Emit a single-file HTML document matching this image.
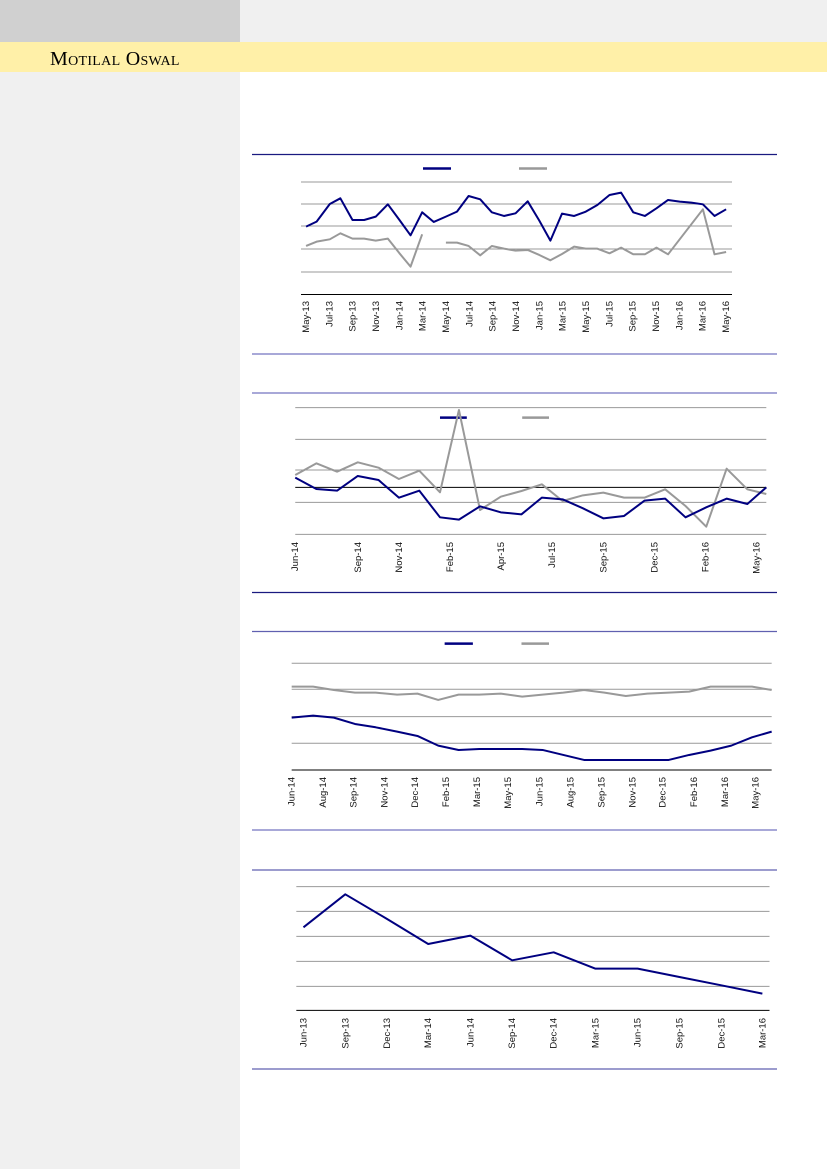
<!DOCTYPE html>
<html><head><meta charset="utf-8"><style>
html,body{margin:0;padding:0}
body{width:827px;height:1169px;position:relative;background:#fff;overflow:hidden}
svg{position:absolute;left:0;top:0}
text{font-family:"Liberation Sans",sans-serif;font-size:9.5px;fill:#111}
</style></head><body>
<svg width="827" height="1169" viewBox="0 0 827 1169">
<rect x="0" y="0" width="240" height="1169" fill="#f0f0f0"/>
<rect x="0" y="0" width="240" height="42" fill="#d0d0d0"/>
<rect x="240" y="0" width="587" height="42" fill="#f0f0f0"/>
<rect x="0" y="42" width="827" height="30" fill="#fff0a8"/>
<text x="50" y="65" style="font-family:'Liberation Serif',serif;font-size:20px;font-variant:small-caps;fill:#000;letter-spacing:0.3px">Motilal Oswal</text>

<!-- Chart 1 -->
<line x1="252" y1="154.5" x2="777" y2="154.5" stroke="#1a1a80" stroke-width="1.3"/>
<line x1="252" y1="354" x2="777" y2="354" stroke="#a8a8d8" stroke-width="2"/>
<g stroke="#999" stroke-width="1">
<line x1="301" y1="182" x2="732" y2="182"/><line x1="301" y1="204" x2="732" y2="204"/>
<line x1="301" y1="226" x2="732" y2="226"/><line x1="301" y1="249" x2="732" y2="249"/>
<line x1="301" y1="272" x2="732" y2="272"/></g>
<line x1="301" y1="294.5" x2="732" y2="294.5" stroke="#000" stroke-width="1"/>
<line x1="423" y1="168.5" x2="451" y2="168.5" stroke="#000080" stroke-width="2.5"/>
<line x1="519" y1="168.5" x2="547" y2="168.5" stroke="#999" stroke-width="2.5"/>
<g transform="scale(0.5277,0.3333)" fill="none" stroke-linejoin="round">
<polyline vector-effect="non-scaling-stroke" stroke="#000080" stroke-width="2" points="580,680 600,665 625,612 645,595 668,660 690,660 712,650 735,613 757,660 778,706 800,637 822,666 845,650 866,635 888,588 910,598 932,637 955,648 977,640 1000,604 1022,662 1043,722 1065,641 1088,648 1110,635 1132,615 1155,585 1177,578 1200,637 1222,648 1244,625 1266,600 1288,605 1310,608 1332,613 1354,648 1376,628"/>
<polyline vector-effect="non-scaling-stroke" stroke="#999" stroke-width="2" points="580,738 600,725 625,718 645,700 668,716 690,716 712,722 735,716 757,760 778,800 800,703"/>
<polyline vector-effect="non-scaling-stroke" stroke="#999" stroke-width="2" points="845,728 866,728 888,738 910,766 932,738 955,746 977,752 1000,750 1022,765 1043,781 1065,762 1088,740 1110,746 1132,746 1155,760 1177,743 1200,763 1222,763 1244,743 1266,763 1288,718 1310,673 1332,628 1354,763 1376,756"/>
</g>
<g text-anchor="end">
<text transform="translate(309,301) rotate(-90)">May-13</text>
<text transform="translate(332.3,301) rotate(-90)">Jul-13</text>
<text transform="translate(355.7,301) rotate(-90)">Sep-13</text>
<text transform="translate(379,301) rotate(-90)">Nov-13</text>
<text transform="translate(402.3,301) rotate(-90)">Jan-14</text>
<text transform="translate(425.7,301) rotate(-90)">Mar-14</text>
<text transform="translate(449,301) rotate(-90)">May-14</text>
<text transform="translate(472.3,301) rotate(-90)">Jul-14</text>
<text transform="translate(495.7,301) rotate(-90)">Sep-14</text>
<text transform="translate(519,301) rotate(-90)">Nov-14</text>
<text transform="translate(542.3,301) rotate(-90)">Jan-15</text>
<text transform="translate(565.7,301) rotate(-90)">Mar-15</text>
<text transform="translate(589,301) rotate(-90)">May-15</text>
<text transform="translate(612.3,301) rotate(-90)">Jul-15</text>
<text transform="translate(635.7,301) rotate(-90)">Sep-15</text>
<text transform="translate(659,301) rotate(-90)">Nov-15</text>
<text transform="translate(682.3,301) rotate(-90)">Jan-16</text>
<text transform="translate(705.7,301) rotate(-90)">Mar-16</text>
<text transform="translate(729,301) rotate(-90)">May-16</text>
</g>

<!-- Chart 2 -->
<line x1="252" y1="393" x2="777" y2="393" stroke="#a8a8d8" stroke-width="2"/>
<line x1="252" y1="592.5" x2="777" y2="592.5" stroke="#1a1a80" stroke-width="1.3"/>
<g transform="translate(239.85,380) scale(0.3574,0.3333)" fill="none" stroke-linejoin="round">
<g stroke="#999" stroke-width="1">
<line vector-effect="non-scaling-stroke" x1="155" y1="83" x2="1473" y2="83"/>
<line vector-effect="non-scaling-stroke" x1="155" y1="178" x2="1473" y2="178"/>
<line vector-effect="non-scaling-stroke" x1="155" y1="270" x2="1473" y2="270"/>
<line vector-effect="non-scaling-stroke" x1="155" y1="367" x2="1473" y2="367"/>
<line vector-effect="non-scaling-stroke" x1="155" y1="463" x2="1473" y2="463"/></g>
<line vector-effect="non-scaling-stroke" x1="155" y1="322" x2="1473" y2="322" stroke="#000" stroke-width="1"/>
<line vector-effect="non-scaling-stroke" x1="560" y1="113" x2="635" y2="113" stroke="#000080" stroke-width="2.5"/>
<line vector-effect="non-scaling-stroke" x1="790" y1="113" x2="865" y2="113" stroke="#999" stroke-width="2.5"/>
<polyline vector-effect="non-scaling-stroke" stroke="#999" stroke-width="2" points="155,285 214,250 272,275 330,247 388,263 445,297 502,272 560,337 613,90 672,390 730,350 788,333 845,313 903,363 960,346 1017,338 1075,353 1132,353 1190,328 1247,378 1305,440 1362,266 1420,328 1473,342"/>
<polyline vector-effect="non-scaling-stroke" stroke="#000080" stroke-width="2" points="155,293 214,327 272,332 330,288 388,300 445,353 502,332 560,412 613,419 672,379 730,397 788,403 845,353 903,358 960,385 1017,415 1075,408 1132,362 1190,356 1247,412 1305,382 1362,356 1420,372 1473,322"/>
</g>
<g text-anchor="end">
<text transform="translate(298.2,542) rotate(-90)">Jun-14</text>
<text transform="translate(360.8,542) rotate(-90)">Sep-14</text>
<text transform="translate(401.9,542) rotate(-90)">Nov-14</text>
<text transform="translate(453,542) rotate(-90)">Feb-15</text>
<text transform="translate(503.8,542) rotate(-90)">Apr-15</text>
<text transform="translate(554.9,542) rotate(-90)">Jul-15</text>
<text transform="translate(606.3,542) rotate(-90)">Sep-15</text>
<text transform="translate(657.4,542) rotate(-90)">Dec-15</text>
<text transform="translate(708.5,542) rotate(-90)">Feb-16</text>
<text transform="translate(759.3,542) rotate(-90)">May-16</text>
</g>

<!-- Chart 3 -->
<line x1="252" y1="631.5" x2="777" y2="631.5" stroke="#6060b0" stroke-width="1.3"/>
<line x1="252" y1="830" x2="777" y2="830" stroke="#a8a8d8" stroke-width="2"/>
<g transform="translate(239.85,380) scale(0.3574,0.3333)" fill="none" stroke-linejoin="round">
<g stroke="#999" stroke-width="1">
<line vector-effect="non-scaling-stroke" x1="145" y1="850" x2="1488" y2="850"/>
<line vector-effect="non-scaling-stroke" x1="145" y1="928" x2="1488" y2="928"/>
<line vector-effect="non-scaling-stroke" x1="145" y1="1010" x2="1488" y2="1010"/>
<line vector-effect="non-scaling-stroke" x1="145" y1="1090" x2="1488" y2="1090"/></g>
<line vector-effect="non-scaling-stroke" x1="145" y1="1170" x2="1488" y2="1170" stroke="#000" stroke-width="1"/>
<line vector-effect="non-scaling-stroke" x1="573" y1="791" x2="652" y2="791" stroke="#000080" stroke-width="2.5"/>
<line vector-effect="non-scaling-stroke" x1="788" y1="791" x2="865" y2="791" stroke="#999" stroke-width="2.5"/>
<polyline vector-effect="non-scaling-stroke" stroke="#999" stroke-width="2" points="145,920 205,920 263,930 322,938 380,938 440,944 497,941 555,960 612,944 670,944 730,941 790,950 847,944 905,938 963,930 1020,938 1080,948 1140,941 1200,938 1257,935 1317,920 1375,920 1433,920 1488,930"/>
<polyline vector-effect="non-scaling-stroke" stroke="#000080" stroke-width="2" points="145,1013 205,1007 263,1013 322,1032 380,1042 440,1055 497,1068 555,1097 612,1110 670,1107 730,1107 790,1107 847,1110 905,1125 963,1140 1020,1140 1080,1140 1140,1140 1200,1140 1257,1125 1317,1112 1375,1097 1433,1072 1488,1055"/>
</g>
<g text-anchor="end">
<text transform="translate(294.7,777) rotate(-90)">Jun-14</text>
<text transform="translate(325.8,777) rotate(-90)">Aug-14</text>
<text transform="translate(356.5,777) rotate(-90)">Sep-14</text>
<text transform="translate(387.6,777) rotate(-90)">Nov-14</text>
<text transform="translate(418,777) rotate(-90)">Dec-14</text>
<text transform="translate(449.1,777) rotate(-90)">Feb-15</text>
<text transform="translate(479.8,777) rotate(-90)">Mar-15</text>
<text transform="translate(510.9,777) rotate(-90)">May-15</text>
<text transform="translate(542.4,777) rotate(-90)">Jun-15</text>
<text transform="translate(573.4,777) rotate(-90)">Aug-15</text>
<text transform="translate(604.5,777) rotate(-90)">Sep-15</text>
<text transform="translate(635.3,777) rotate(-90)">Nov-15</text>
<text transform="translate(665.6,777) rotate(-90)">Dec-15</text>
<text transform="translate(696.8,777) rotate(-90)">Feb-16</text>
<text transform="translate(727.8,777) rotate(-90)">Mar-16</text>
<text transform="translate(758.6,777) rotate(-90)">May-16</text>
</g>

<!-- Chart 4 -->
<line x1="252" y1="870" x2="777" y2="870" stroke="#6060b0" stroke-width="1.3"/>
<line x1="252" y1="1069" x2="777" y2="1069" stroke="#6060b0" stroke-width="1.3"/>
<g transform="translate(239.85,820) scale(0.3574,0.3333)" fill="none" stroke-linejoin="round">
<g stroke="#999" stroke-width="1">
<line vector-effect="non-scaling-stroke" x1="158" y1="200" x2="1482" y2="200"/>
<line vector-effect="non-scaling-stroke" x1="158" y1="274" x2="1482" y2="274"/>
<line vector-effect="non-scaling-stroke" x1="158" y1="349" x2="1482" y2="349"/>
<line vector-effect="non-scaling-stroke" x1="158" y1="424" x2="1482" y2="424"/>
<line vector-effect="non-scaling-stroke" x1="158" y1="499" x2="1482" y2="499"/></g>
<line vector-effect="non-scaling-stroke" x1="158" y1="571" x2="1482" y2="571" stroke="#000" stroke-width="1"/>
<polyline vector-effect="non-scaling-stroke" stroke="#000080" stroke-width="2" points="178,322 295,223 412,297 527,372 645,347 762,421 878,397 995,446 1113,446 1230,471 1347,496 1462,521"/>
</g>
<g text-anchor="end">
<text transform="translate(306.5,1018) rotate(-90)">Jun-13</text>
<text transform="translate(348.3,1018) rotate(-90)">Sep-13</text>
<text transform="translate(390.1,1018) rotate(-90)">Dec-13</text>
<text transform="translate(431.2,1018) rotate(-90)">Mar-14</text>
<text transform="translate(473.4,1018) rotate(-90)">Jun-14</text>
<text transform="translate(515.2,1018) rotate(-90)">Sep-14</text>
<text transform="translate(556.6,1018) rotate(-90)">Dec-14</text>
<text transform="translate(598.5,1018) rotate(-90)">Mar-15</text>
<text transform="translate(640.6,1018) rotate(-90)">Jun-15</text>
<text transform="translate(682.5,1018) rotate(-90)">Sep-15</text>
<text transform="translate(724.3,1018) rotate(-90)">Dec-15</text>
<text transform="translate(765.4,1018) rotate(-90)">Mar-16</text>
</g>
</svg>
</body></html>
